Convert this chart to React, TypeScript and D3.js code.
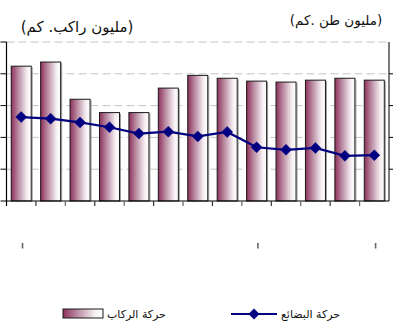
import React from 'react';
import * as d3 from 'd3';

const categories = ['1994', '1995', '1996', '1997', '1998', '1999', '2000', '2001', '2002', '2003', '2004', '2005', '2006'];
const passengerValues = [42.4, 43.7, 32.0, 27.8, 27.8, 35.5, 39.5, 38.6, 37.7, 37.4, 38.0, 38.6, 38.0];
const freightValues = [26.4, 25.9, 24.7, 23.2, 21.2, 21.8, 20.3, 21.7, 16.9, 16.1, 16.7, 14.2, 14.4];
const yTicks = [0, 10, 20, 30, 40, 50];
const stubCategories = ['1994', '2002', '2006'];
const leftTitle = '(مليون راكب. كم)';
const rightTitle = '(مليون طن .كم)';
const legendBarLabel = 'حركة الركاب';
const legendLineLabel = 'حركة البضائع';

const W = 393;
const H = 327;
const M = { left: 6.5, right: 389, top: 42, bottom: 201 };

export default function App() {
  const x = d3.scaleBand<string>().domain(categories).range([M.left, M.right]).paddingInner(0.32).paddingOuter(0.16);
  const xBand = d3.scaleBand<string>().domain(categories).range([M.left, M.right]).padding(0);
  const yL = d3.scaleLinear().domain([0, 50]).range([M.bottom, M.top]);
  const yR = d3.scaleLinear().domain([0, 50]).range([M.bottom, M.top]);

  const lineGen = d3
    .line<number>()
    .x((_, i) => (xBand(categories[i]) as number) + xBand.bandwidth() / 2)
    .y((d) => yR(d));

  const diamondPath = (cx: number, cy: number, r: number) => `M${cx},${cy - r}L${cx + r},${cy}L${cx},${cy + r}L${cx - r},${cy}Z`;

  const font = '"DejaVu Sans", sans-serif';

  return (
    <svg width={W} height={H} style={{ position: 'absolute', left: 0, top: 0, background: '#fff' }}>
      <defs>
        <linearGradient id="barGrad" x1="0" y1="0" x2="1" y2="0">
          <stop offset="0%" stopColor="#8e2f5c" />
          <stop offset="35%" stopColor="#b98aa1" />
          <stop offset="80%" stopColor="#f6f0f3" />
          <stop offset="100%" stopColor="#ffffff" />
        </linearGradient>
      </defs>

      {/* gridlines */}
      {yTicks.slice(1).map((t) => (
        <line key={'g' + t} x1={M.left} x2={M.right} y1={yL(t)} y2={yL(t)} stroke="#c4c4c4" strokeWidth={1} strokeDasharray="8,4" />
      ))}

      {/* bars */}
      {categories.map((c, i) => {
        const bx = x(c) as number;
        const bw = x.bandwidth();
        const by = yL(passengerValues[i]);
        return (
          <g key={'b' + c}>
            <line x1={bx + bw + 1} x2={bx + bw + 1} y1={by + 1} y2={M.bottom} stroke="#9a9a9a" strokeWidth={1} />
            <rect x={bx} y={by} width={bw} height={M.bottom - by} fill="url(#barGrad)" stroke="#1a1a1a" strokeWidth={1} />
          </g>
        );
      })}

      {/* axes */}
      <line x1={M.left} x2={M.left} y1={M.top} y2={M.bottom + 5} stroke="#000" strokeWidth={1.2} />
      <line x1={M.right} x2={M.right} y1={M.top} y2={M.bottom} stroke="#222" strokeWidth={1.2} />
      <line x1={M.left} x2={M.right} y1={M.bottom} y2={M.bottom} stroke="#000" strokeWidth={1.2} />
      {yTicks.map((t) => (
        <g key={'t' + t}>
          <line x1={M.left - 6} x2={M.left} y1={yL(t)} y2={yL(t)} stroke="#000" strokeWidth={1} />
          {t > 0 && t < 50 && <line x1={M.right} x2={M.right + 5} y1={yR(t)} y2={yR(t)} stroke="#000" strokeWidth={1} />}
        </g>
      ))}
      {categories.slice(1).map((c, i) => (
        <line
          key={'xt' + c}
          x1={xBand(c) as number}
          x2={xBand(c) as number}
          y1={M.bottom}
          y2={M.bottom + 5}
          stroke={i % 2 === 0 ? '#333' : '#666'}
          strokeWidth={1.2}
        />
      ))}

      {/* label stubs */}
      {stubCategories.map((c) => (
        <rect key={'s' + c} x={(xBand(c) as number) + xBand.bandwidth() / 2 + 0.5} y={243} width={1.6} height={5.5} fill="#666" />
      ))}

      {/* line series */}
      <path d={lineGen(freightValues) || ''} fill="none" stroke="#000080" strokeWidth={2.2} />
      {freightValues.map((v, i) => {
        const cx = (xBand(categories[i]) as number) + xBand.bandwidth() / 2;
        return <path key={'m' + i} d={diamondPath(cx, yR(v), 5.5)} fill="#000080" stroke="#000080" strokeWidth={0.5} />;
      })}

      {/* titles */}
      <text x={77} y={32} textAnchor="middle" fontFamily={font} fontSize={15} fill="#111">
        {leftTitle}
      </text>
      <text x={336} y={25} textAnchor="middle" fontFamily={font} fontSize={13.5} fill="#111">
        {rightTitle}
      </text>

      {/* legend */}
      <rect x={63} y={309} width={40} height={9} fill="url(#barGrad)" stroke="#1a1a1a" strokeWidth={1} />
      <text x={107} y={318} fontFamily={font} fontSize={11} fill="#111">
        {legendBarLabel}
      </text>
      <line x1={231} x2={277} y1={314} y2={314} stroke="#000080" strokeWidth={2.2} />
      <path d={diamondPath(254, 314, 5.5)} fill="#000080" />
      <text x={281} y={318} fontFamily={font} fontSize={11} fill="#111">
        {legendLineLabel}
      </text>
    </svg>
  );
}
